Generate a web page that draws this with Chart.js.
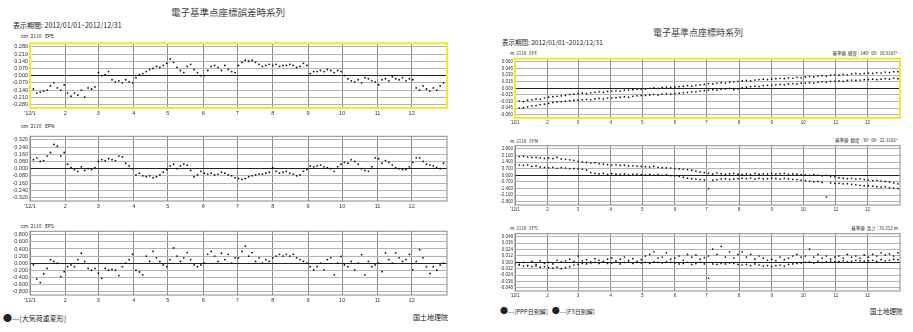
<!DOCTYPE html>
<html>
<head>
<meta charset="utf-8">
<script src="https://cdn.jsdelivr.net/npm/chart.js@4"></script>
<style>
  html, body { margin: 0; padding: 0; background: #fff; }
  body { width: 913px; height: 332px; position: relative; overflow: hidden;
         font-family: "Noto Sans CJK JP", "Liberation Sans", sans-serif; color: #222; }
  .t { position: absolute; white-space: nowrap; line-height: 1; transform: translateY(-50%); }
  .box { position: absolute; }
</style>
</head>
<body>
<div class="t" style="left:171px;top:13px;font-size:9.5px;color:#444;">電子基準点座標誤差時系列</div>
<div class="t" style="left:13px;top:25px;font-size:7px;">表示期間: 2012/01/01~2012/12/31</div>
<div class="t" style="left:21px;top:35px;font-size:5px;">cm&nbsp;&nbsp;2110&nbsp;&nbsp;&nbsp;EPE</div>
<div class="t" style="left:21px;top:125px;font-size:5px;">cm&nbsp;&nbsp;2110&nbsp;&nbsp;&nbsp;EPN</div>
<div class="t" style="left:21px;top:225px;font-size:5px;">cm&nbsp;&nbsp;2110&nbsp;&nbsp;&nbsp;EPS</div>
<div class="t" style="left:3px;top:317px;font-size:7px;"><span style="font-size:9px">●</span>---[大気荷重変形]</div>
<div class="t" style="left:413px;top:317px;font-size:7px;">国土地理院</div>

<div class="t" style="left:653px;top:32px;font-size:9px;color:#444;">電子基準点座標時系列</div>
<div class="t" style="left:502px;top:42px;font-size:6.5px;">表示期間: 2012/01/01~2012/12/31</div>
<div class="t" style="left:510px;top:53px;font-size:4.5px;">m&nbsp;&nbsp;2110&nbsp;&nbsp;&nbsp;EPE</div>
<div class="t" style="left:510px;top:141px;font-size:4.5px;">m&nbsp;&nbsp;2110&nbsp;&nbsp;&nbsp;EPN</div>
<div class="t" style="left:510px;top:228px;font-size:4.5px;">m&nbsp;&nbsp;2110&nbsp;&nbsp;&nbsp;EPS</div>
<div class="t" style="right:15px;top:53px;font-size:4.5px;">基準値&nbsp;&nbsp;経度 : 140°&nbsp;&nbsp;05'&nbsp;&nbsp;10.9107"</div>
<div class="t" style="right:15px;top:140px;font-size:4.5px;">基準値&nbsp;&nbsp;緯度 : 36°&nbsp;&nbsp;06'&nbsp;&nbsp;22.3102"</div>
<div class="t" style="right:15px;top:228px;font-size:4.5px;">基準値&nbsp;&nbsp;高さ : 76.252 m</div>
<div class="t" style="left:500px;top:311px;font-size:6px;"><span style="font-size:8px">●</span>---[PPP日別解]&nbsp;&nbsp;&nbsp;<span style="font-size:8px">●</span>---[F3日別解]</div>
<div class="t" style="left:870px;top:311px;font-size:6.5px;">国土地理院</div>

<script>
// ── Data ──────────────────────────────────────────────────────────────────
// x axis: day of year 2012, month starts
const monthDays   = [0, 31, 60, 91, 121, 152, 182, 213, 244, 274, 305, 335];
const monthLabels = ["'12/1", '2', '3', '4', '5', '6', '7', '8', '9', '10', '11', '12'];

// left panel: one value every 3 days
const LEFT_STEP = 3;
const leftEpeTicks = [0.28, 0.21, 0.14, 0.07, 0, -0.07, -0.14, -0.21, -0.28];
const leftEpnTicks = [0.32, 0.24, 0.16, 0.08, 0, -0.08, -0.16, -0.24, -0.32];
const leftEpsTicks = [0.8, 0.6, 0.4, 0.2, 0, -0.2, -0.4, -0.6, -0.8];

const leftEpe = [
  -0.10,-0.13,-0.17,-0.16,-0.15,-0.14,-0.10,-0.07,-0.12,-0.14,-0.09,
  -0.17,-0.20,-0.17,-0.19,-0.14,-0.21,-0.12,-0.13,-0.11,
  0.03,0.00,0.01,0.04,-0.04,-0.06,-0.05,-0.07,-0.04,-0.06,-0.07,
  -0.02,0.01,0.02,0.04,0.06,0.07,0.09,0.08,0.10,0.12,
  0.16,0.13,0.08,0.05,0.03,0.09,0.11,0.06,0.03,0.00,
  0.00,0.05,0.09,0.10,0.08,0.05,0.10,0.06,0.04,0.03,
  0.10,0.13,0.15,0.14,0.15,0.13,0.11,0.09,0.10,0.11,
  0.10,0.11,0.09,0.10,0.10,0.11,0.10,0.08,0.09,0.12,0.10,
  0.02,0.04,0.04,0.05,0.04,0.06,0.05,0.03,0.05,0.04,
  0.00,-0.03,-0.05,-0.06,-0.04,-0.07,-0.02,-0.03,-0.05,-0.06,
  -0.09,-0.04,-0.03,-0.05,-0.01,-0.03,-0.04,-0.02,-0.05,-0.03,
  -0.04,-0.12,-0.14,-0.10,-0.13,-0.15,-0.12,-0.14,-0.10,-0.07
];
const leftEpn = [
  0.12,0.10,0.12,0.08,0.09,0.14,0.18,0.27,0.25,0.14,0.18,
  0.05,0.01,-0.01,-0.03,0.02,-0.02,0.00,-0.01,0.01,
  0.08,0.10,0.09,0.11,0.10,0.09,0.14,0.13,0.06,0.03,0.00,
  -0.07,-0.05,-0.08,-0.09,-0.08,-0.10,-0.09,-0.07,-0.04,-0.01,
  0.03,0.05,0.00,0.03,0.05,0.04,-0.02,-0.09,-0.07,-0.03,
  -0.05,-0.06,-0.05,-0.07,-0.06,-0.04,-0.05,-0.07,-0.08,-0.10,
  -0.11,-0.12,-0.11,-0.09,-0.08,-0.07,-0.06,-0.06,-0.05,-0.04,
  0.01,-0.03,-0.05,-0.04,-0.03,-0.05,-0.06,-0.08,-0.07,-0.03,-0.01,
  0.03,0.02,0.03,0.04,0.02,0.01,0.00,-0.03,0.02,0.05,
  0.07,0.06,0.10,0.08,0.05,0.00,-0.02,-0.03,0.02,0.12,
  0.11,0.06,0.09,0.07,0.04,0.01,0.00,-0.01,-0.01,0.02,
  0.07,0.12,0.12,0.08,0.05,0.04,0.03,0.01,0.00,0.06
];
const leftEps = [
  -0.17,-0.05,-0.45,-0.55,-0.30,-0.15,0.10,0.05,0.00,-0.38,-0.24,
  -0.10,-0.05,-0.10,0.10,0.28,0.05,-0.15,-0.20,-0.15,
  -0.28,-0.43,-0.15,-0.20,-0.18,-0.20,-0.35,-0.10,0.00,0.10,0.25,
  -0.20,-0.25,-0.33,0.20,0.05,0.33,0.15,0.05,-0.05,-0.10,
  0.10,0.43,0.20,0.05,0.15,0.30,0.10,-0.05,-0.10,-0.05,
  0.00,0.25,0.33,0.20,0.05,0.28,0.10,0.25,0.00,0.15,
  0.15,0.33,0.48,0.20,0.30,0.05,0.15,0.00,0.10,0.05,
  0.15,0.20,0.25,0.20,0.25,0.20,0.25,0.15,0.10,0.05,0.00,
  -0.10,-0.19,-0.10,0.00,-0.19,0.10,0.15,-0.33,0.00,0.19,
  -0.05,-0.10,0.05,-0.19,0.00,0.24,-0.33,0.05,-0.10,-0.05,
  0.00,-0.24,0.29,0.10,0.00,0.29,0.15,0.05,0.10,0.25,
  -0.19,0.05,0.38,0.15,-0.10,-0.29,-0.10,-0.20,-0.05,0.00
];

// right panel: two solutions, one value every 4 days
const RIGHT_STEP = 4;
const rightEpeTicks = [0.06, 0.045, 0.03, 0.015, 0, -0.015, -0.03, -0.045, -0.06];
const rightEpnTicks = [2.8, 2.1, 1.4, 0.7, 0, -0.7, -1.4, -2.1, -2.8];
const rightEpsTicks = [0.048, 0.036, 0.024, 0.012, 0, -0.012, -0.024, -0.036, -0.048];

const rightEpeA = [
  -0.031,-0.029,-0.030,-0.027,-0.026,-0.024,-0.025,-0.022,
  -0.020,-0.019,-0.018,-0.017,-0.016,-0.014,-0.013,
  -0.012,-0.011,-0.012,-0.010,-0.009,-0.008,-0.009,-0.007,
  -0.006,-0.005,-0.006,-0.004,-0.004,-0.003,-0.002,-0.002,
  -0.001,0.000,0.001,0.000,0.002,0.003,0.002,
  0.003,0.004,0.005,0.006,0.005,0.007,0.008,0.009,
  0.011,0.010,0.012,0.013,0.012,0.014,0.015,0.016,
  0.017,0.018,0.017,0.019,0.020,0.021,0.020,
  0.021,0.022,0.023,0.022,0.024,0.023,0.025,0.024,
  0.026,0.027,0.026,0.028,0.029,0.028,0.030,0.031,
  0.030,0.032,0.031,0.033,0.034,0.033,0.034,
  0.035,0.034,0.036,0.035,0.037,0.036,0.038,0.038
];
const rightEpeB = [
  -0.046,-0.045,-0.044,-0.042,-0.040,-0.039,-0.037,-0.036,
  -0.034,-0.032,-0.031,-0.030,-0.029,-0.028,-0.027,
  -0.027,-0.026,-0.025,-0.026,-0.024,-0.023,-0.024,-0.022,
  -0.022,-0.021,-0.020,-0.019,-0.020,-0.018,-0.017,-0.016,
  -0.016,-0.015,-0.014,-0.015,-0.013,-0.012,-0.013,
  -0.012,-0.011,-0.010,-0.009,-0.008,-0.008,-0.006,-0.005,
  -0.004,-0.003,-0.004,-0.002,-0.001,0.000,-0.003,-0.001,
  0.001,0.003,0.004,0.005,0.004,0.006,0.007,
  0.007,0.008,0.009,0.008,0.010,0.011,0.010,0.012,
  0.012,0.013,0.012,0.014,0.015,0.014,0.016,0.016,
  0.017,0.016,0.018,0.019,0.018,0.019,0.020,
  0.020,0.021,0.020,0.021,0.022,0.021,0.023,0.022
];
const rightEpnA = [
  2.05,2.00,2.02,1.95,1.90,1.92,1.85,1.80,
  1.85,1.78,1.90,1.75,1.70,1.65,1.60,
  1.50,1.42,1.38,1.30,1.35,1.25,1.20,1.15,
  1.10,1.15,1.05,1.08,1.00,1.02,0.98,0.95,
  0.92,0.88,0.95,0.85,0.82,0.80,0.78,
  0.72,0.68,0.65,0.60,0.55,0.45,0.35,0.30,
  0.20,0.15,0.25,0.18,0.10,0.15,0.20,0.12,
  0.10,0.15,0.08,0.20,0.12,0.18,0.15,
  0.20,0.15,0.18,0.22,0.10,0.15,0.12,0.08,
  0.05,0.00,0.08,0.02,-0.05,0.00,-0.10,-0.15,
  -0.25,-0.30,-0.35,-0.32,-0.40,-0.38,-0.45,
  -0.50,-0.55,-0.52,-0.60,-0.65,-0.70,-0.80,-0.90
];
const rightEpnB = [
  1.15,1.10,1.05,1.12,0.95,1.00,0.90,0.85,
  0.80,0.85,0.75,0.82,0.78,0.70,0.72,
  0.70,0.65,0.55,0.30,0.20,0.15,0.20,0.10,
  0.18,0.12,0.10,0.15,0.05,0.10,0.12,0.08,
  0.05,0.10,0.02,0.08,0.00,0.05,-0.02,
  -0.05,-0.10,-0.20,-0.30,-0.35,-0.40,-0.45,-0.50,
  -1.40,-0.50,-0.45,-0.40,-0.35,-0.42,-0.38,-0.35,
  -0.30,-0.35,-0.28,-0.40,-0.32,-0.38,-0.35,
  -0.30,-0.35,-0.40,-0.32,-0.38,-0.42,-0.45,-0.50,
  -0.55,-0.60,-0.70,-0.65,-0.75,-2.30,-0.80,-0.85,
  -0.85,-0.90,-0.88,-0.95,-1.00,-1.05,-1.10,
  -1.10,-1.15,-1.20,-1.25,-1.20,-1.30,-1.35,-1.40
];
const rightEpsA = [
  -0.002,-0.005,-0.007,-0.006,-0.008,-0.007,-0.009,-0.008,
  -0.010,-0.011,-0.009,-0.012,-0.010,-0.008,-0.005,
  -0.004,-0.002,-0.003,-0.001,0.000,-0.002,0.001,-0.002,
  -0.001,0.000,-0.003,0.000,0.001,-0.002,0.000,-0.001,
  0.000,-0.002,0.001,0.000,-0.001,0.001,0.000,
  -0.001,-0.003,-0.002,0.000,-0.004,-0.002,0.000,-0.003,
  -0.030,-0.003,-0.004,-0.002,-0.003,-0.001,-0.002,-0.004,
  -0.005,-0.004,-0.006,-0.003,-0.005,-0.007,-0.006,
  -0.008,-0.006,-0.005,-0.007,-0.004,-0.003,-0.002,-0.001,
  0.000,0.001,-0.001,0.002,0.000,0.001,0.002,0.001,
  0.002,0.003,0.001,0.002,0.004,0.003,0.002,
  0.003,0.004,0.002,0.005,0.003,0.004,0.006,0.005
];
const rightEpsB = [
  -0.003,-0.004,0.000,-0.006,0.002,-0.004,0.003,-0.002,
  0.000,-0.003,0.004,0.001,0.003,0.006,0.002,
  0.012,0.003,0.005,0.001,0.007,0.004,0.002,0.006,
  0.008,0.003,0.006,0.010,0.004,0.007,0.002,0.005,
  0.012,0.015,0.020,0.008,0.010,0.018,0.006,
  0.008,0.012,0.004,0.015,0.010,0.014,0.006,0.009,
  0.012,0.025,0.015,0.030,0.010,0.020,0.008,0.015,
  0.020,0.010,0.015,0.006,0.012,0.008,0.004,
  0.006,0.003,0.010,0.005,0.008,0.012,0.015,0.010,
  0.012,0.025,0.010,0.015,0.008,0.012,0.006,0.010,
  0.012,0.008,0.015,0.010,0.012,0.008,0.014,
  0.010,0.015,0.012,0.018,0.014,0.016,0.012,0.018
];

// ── Chart builder ─────────────────────────────────────────────────────────
const toPoints = (vals, step) => vals.map((v, i) => ({ x: i * step, y: v }));

const framePlugin = {
  id: 'frame',
  afterDraw(chart, args, opts) {
    const a = chart.chartArea, ctx = chart.ctx;
    ctx.save();
    ctx.strokeStyle = opts.color;
    ctx.lineWidth = opts.width;
    ctx.strokeRect(a.left, a.top, a.right - a.left, a.bottom - a.top);
    ctx.restore();
  }
};

function makeChart(box, series, step, yTicks, look) {
  const half = (yTicks[0] - yTicks[1]) / 2;
  const wrap = document.createElement('div');
  wrap.className = 'box';
  const cw = look.yW + box.w + 6, ch = 4 + box.h + look.xH;
  wrap.style.left = (box.x - look.yW) + 'px';
  wrap.style.top = (box.y - 4) + 'px';
  const cv = document.createElement('canvas');
  cv.width = cw; cv.height = ch;
  cv.style.width = cw + 'px'; cv.style.height = ch + 'px';
  wrap.appendChild(cv);
  document.body.appendChild(wrap);

  return new Chart(cv.getContext('2d'), {
    type: 'scatter',
    data: {
      datasets: series.map(s => ({
        data: toPoints(s, step),
        pointRadius: look.r,
        pointBackgroundColor: '#111',
        pointBorderWidth: 0,
        showLine: false
      }))
    },
    options: {
      responsive: false,
      animation: false,
      devicePixelRatio: 1,
      layout: { padding: { top: 4, right: 6, left: 0, bottom: 0 } },
      plugins: { legend: { display: false }, tooltip: { enabled: false },
                 frame: { color: look.frame, width: look.frameW } },
      scales: {
        x: {
          type: 'linear', min: 0, max: 366,
          afterBuildTicks: s => { s.ticks = monthDays.map(v => ({ value: v })); },
          afterFit: s => { s.height = look.xH; },
          ticks: { autoSkip: false, maxRotation: 0, padding: 2, color: '#333',
                   font: { family: 'Liberation Sans', size: look.fs },
                   callback: v => monthLabels[monthDays.indexOf(v)] },
          grid: { color: '#8a8a8a', drawTicks: false },
          border: { display: false }
        },
        y: {
          min: yTicks[yTicks.length - 1] - half, max: yTicks[0] + half,
          afterBuildTicks: s => { s.ticks = yTicks.map(v => ({ value: v })); },
          afterFit: s => { s.width = look.yW; },
          ticks: { autoSkip: false, padding: 2, color: '#333',
                   font: { family: 'Liberation Sans', size: look.fs },
                   callback: v => v.toFixed(3) },
          grid: { color: c => (c.tick && c.tick.value === 0) ? '#222' : '#b4b4b4', drawTicks: false },
          border: { display: false }
        }
      }
    },
    plugins: [framePlugin]
  });
}

const leftLook  = { yW: 28, xH: 12, fs: 5.5, r: 0.9, frame: '#8a8a8a', frameW: 1 };
const rightLook = { yW: 16, xH: 10, fs: 4.5, r: 0.85, frame: '#8a8a8a', frameW: 1 };
const yellow = Object.assign({}, leftLook, { frame: '#f2ea2a', frameW: 2 });
const yellowR = Object.assign({}, rightLook, { frame: '#f2ea2a', frameW: 2 });

makeChart({ x: 30, y: 42, w: 417, h: 66 }, [leftEpe], LEFT_STEP, leftEpeTicks, yellow);
makeChart({ x: 30, y: 135, w: 417, h: 66 }, [leftEpn], LEFT_STEP, leftEpnTicks, leftLook);
makeChart({ x: 30, y: 230, w: 417, h: 65 }, [leftEps], LEFT_STEP, leftEpsTicks, leftLook);

makeChart({ x: 515, y: 58, w: 385, h: 60 }, [rightEpeA, rightEpeB], RIGHT_STEP, rightEpeTicks, yellowR);
makeChart({ x: 515, y: 145, w: 385, h: 60 }, [rightEpnA, rightEpnB], RIGHT_STEP, rightEpnTicks, rightLook);
makeChart({ x: 515, y: 233, w: 385, h: 58 }, [rightEpsA, rightEpsB], RIGHT_STEP, rightEpsTicks, rightLook);
</script>
</body>
</html>
